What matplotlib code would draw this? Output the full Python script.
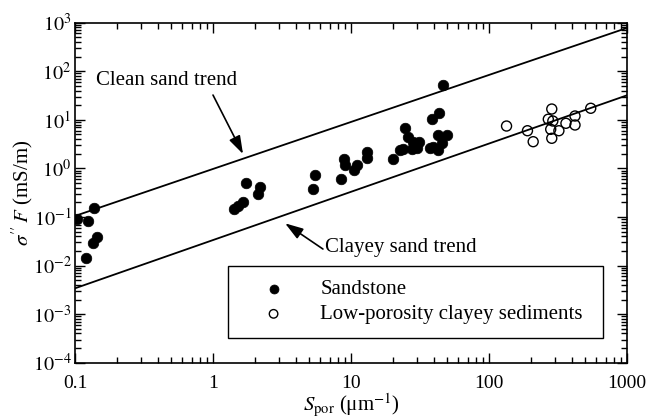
import matplotlib
matplotlib.use("Agg")
import matplotlib.pyplot as plt
from matplotlib.patches import Rectangle
from matplotlib.ticker import FixedLocator, FixedFormatter, LogLocator, NullFormatter

plt.rcParams['font.family'] = ['Liberation Serif', 'DejaVu Serif']
plt.rcParams['mathtext.fontset'] = 'stix'
plt.rcParams['font.size'] = 15

# Sandstone samples: pore-normalised surface area vs. sigma'' * F
sandstone_x = [0.103, 0.125, 0.137, 0.145, 0.134, 0.120,
               1.73, 2.19, 2.13, 1.66, 1.52, 1.42,
               5.48, 5.32, 8.9, 9.07, 8.46, 11.0, 10.5, 13.1, 13.1,
               46.7, 43.6, 38.4, 24.6, 26.0, 28.0, 31.3, 23.9, 27.5,
               29.9, 37.4, 42.9, 49.5, 45.4, 39.5, 42.9, 20.3, 22.6]
sandstone_y = [0.090, 0.084, 0.151, 0.039, 0.0295, 0.0141,
               0.508, 0.408, 0.297, 0.200, 0.171, 0.146,
               0.731, 0.377, 1.54, 1.17, 0.605, 1.20, 0.92, 2.15, 1.66,
               52.1, 13.6, 10.3, 6.88, 4.50, 3.55, 3.45, 2.47, 2.47,
               2.59, 2.59, 4.87, 4.87, 3.29, 2.80, 2.39, 1.54, 2.39]

# Low-porosity clayey sediments
clayey_x = [134, 190, 209, 285, 269, 290, 280, 321, 285, 361, 420, 420, 546]
clayey_y = [7.46, 5.97, 3.55, 16.7, 10.3, 9.46, 6.38, 5.97, 4.17, 8.49,
            12.0, 7.83, 17.3]

# Trend lines (end points)
clean_trend_x = [0.1, 1000]
clean_trend_y = [0.105, 780]
clayey_trend_x = [0.1, 1000]
clayey_trend_y = [0.0034, 32]

x_ticks = [0.1, 1, 10, 100, 1000]
x_tick_labels = ["0.1", "1", "10", "100", "1000"]
y_ticks = [1e-4, 1e-3, 1e-2, 1e-1, 1e0, 1e1, 1e2, 1e3]
y_tick_labels = [r"$10^{-4}$", r"$10^{-3}$", r"$10^{-2}$", r"$10^{-1}$",
                 r"$10^{0}$", r"$10^{1}$", r"$10^{2}$", r"$10^{3}$"]

fig = plt.figure(figsize=(6.46, 4.2), dpi=100)
ax = fig.add_axes([75 / 646, 1 - 362.7 / 420, 552 / 646, 340 / 420])
ax.set_xscale('log')
ax.set_yscale('log')
ax.set_xlim(0.1, 1000)
ax.set_ylim(1e-4, 1e3)

ax.plot(clean_trend_x, clean_trend_y, color='k', lw=1.3)
ax.plot(clayey_trend_x, clayey_trend_y, color='k', lw=1.3)

ax.scatter(sandstone_x, sandstone_y, s=58, facecolor='k', edgecolor='k',
           linewidths=0.5, zorder=3, label='Sandstone')
ax.scatter(clayey_x, clayey_y, s=52, facecolor='none', edgecolor='k',
           linewidths=1.0, zorder=3, label='Low-porosity clayey sediments')

ax.xaxis.set_major_locator(FixedLocator(x_ticks))
ax.xaxis.set_major_formatter(FixedFormatter(x_tick_labels))
ax.yaxis.set_major_locator(FixedLocator(y_ticks))
ax.yaxis.set_major_formatter(FixedFormatter(y_tick_labels))
ax.xaxis.set_minor_locator(LogLocator(base=10, subs=range(2, 10), numticks=20))
ax.yaxis.set_minor_locator(LogLocator(base=10, subs=range(2, 10), numticks=20))
ax.xaxis.set_minor_formatter(NullFormatter())
ax.yaxis.set_minor_formatter(NullFormatter())

ax.tick_params(which='both', direction='in', top=True, right=True,
               width=1.0, colors='k')
ax.tick_params(which='major', length=7)
ax.tick_params(which='minor', length=4)
ax.tick_params(axis='x', which='major', pad=8.5, labelsize=14)
ax.tick_params(axis='y', which='major', pad=2.5, labelsize=14.5)
for sp in ax.spines.values():
    sp.set_linewidth(1.2)

ax.set_xlabel(r"$S_{\rm por}$ (μm$^{-1}$)", labelpad=0)
ax.set_ylabel(r"$\sigma''\,F$ (mS/m)", labelpad=-2)

arrow = dict(arrowstyle='-|>,head_length=0.55,head_width=0.18',
             color='k', lw=1.2, mutation_scale=20, shrinkA=0, shrinkB=0)
ax.annotate("Clean sand trend", xy=(0.464, 66), ha='center', va='center')
ax.annotate("", xy=(1.65, 1.98), xytext=(1.0, 32.4), arrowprops=arrow)
ax.annotate("Clayey sand trend", xy=(6.5, 0.0235), ha='left', va='center')
ax.annotate("", xy=(3.33, 0.074), xytext=(6.26, 0.0219), arrowprops=arrow)

# Legend box drawn separately, entries centred inside it
box = Rectangle((0.278, 0.0735), 0.679, 0.2115, transform=ax.transAxes,
                fill=True, facecolor='white', edgecolor='k', lw=1.0, zorder=4)
ax.add_patch(box)
leg = ax.legend(loc='center left', bbox_to_anchor=(0.278, 0.1785),
                borderaxespad=0, frameon=False, borderpad=0,
                labelspacing=0.26, handlelength=4.33, handletextpad=0.08,
                scatterpoints=1, markerscale=0.85)
leg.set_zorder(5)

fig.savefig("out.png", dpi=100)
